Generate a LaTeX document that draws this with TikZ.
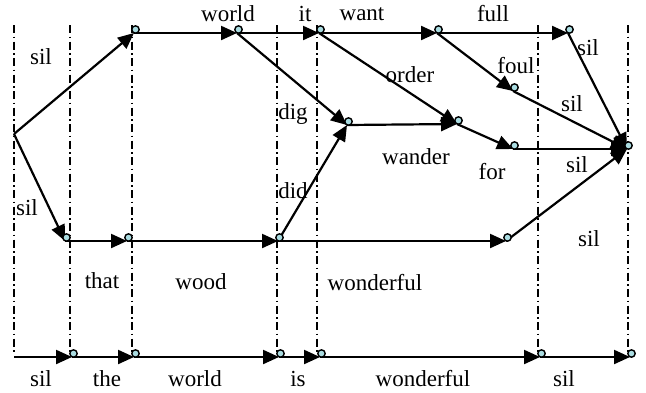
\documentclass[tikz,border=0pt]{standalone}
\usepackage{fontspec}
\setmainfont{Liberation Serif}
\usetikzlibrary{arrows.meta}
\definecolor{dotfill}{RGB}{170,220,225}
\begin{document}
\begin{tikzpicture}[x=1pt,y=-1pt,
  font=\fontsize{23}{27}\selectfont,
  conn/.style={line width=2.2pt,-{Triangle[length=16pt,width=14pt]}},
  gridline/.style={line width=1.5pt,dash pattern=on 8pt off 3.5pt on 1.5pt off 3.5pt},
  lbl/.style={inner sep=0pt,anchor=center},
  dotmark/.style={draw,line width=1.4pt,fill=dotfill}]
\useasboundingbox (0,0) rectangle (646,392);
% vertical dash-dot grid
\foreach \x in {14,70,132,277,317,538,628}
  \draw[gridline] (\x,25) -- (\x,352);
% vertices
\coordinate (A) at (14,134);
\coordinate (B) at (134,33);
\coordinate (C) at (237,33);
\coordinate (D) at (319,33);
\coordinate (E) at (437,33);
\coordinate (F) at (568,33);
\coordinate (G) at (347,125);
\coordinate (H) at (457,124);
\coordinate (I) at (513,91);
\coordinate (J) at (513,149);
\coordinate (K) at (627,149);
\coordinate (L) at (65,241);
\coordinate (M) at (127,241);
\coordinate (N) at (278,241);
\coordinate (O) at (506,241);
\coordinate (S0) at (14,357);
\coordinate (S1) at (72,357);
\coordinate (S2) at (134,357);
\coordinate (S3) at (279,357);
\coordinate (S4) at (320,357);
\coordinate (S5) at (540,357);
\coordinate (S6) at (630,357);
% connectors
\draw[conn] (A) -- (B);
\draw[conn] (A) -- (L);
\draw[conn] (B) -- (C);
\draw[conn] (C) -- (D);
\draw[conn] (C) -- (G);
\draw[conn] (D) -- (E);
\draw[conn] (D) -- (H);
\draw[conn] (E) -- (F);
\draw[conn] (E) -- (I);
\draw[conn] (G) -- (H);
\draw[conn] (H) -- (J);
\draw[conn] (F) -- (K);
\draw[conn] (I) -- (K);
\draw[conn] (J) -- (K);
\draw[conn] (L) -- (M);
\draw[conn] (M) -- (N);
\draw[conn] (N) -- (O);
\draw[conn] (N) -- (G);
\draw[conn] (O) -- (K);
\draw[conn] (S0) -- (S1);
\draw[conn] (S1) -- (S2);
\draw[conn] (S2) -- (S3);
\draw[conn] (S3) -- (S4);
\draw[conn] (S4) -- (S5);
\draw[conn] (S5) -- (S6);
% vertex marks
\foreach \v in {B,C,D,E,F,G,H,I,J,K,L,M,N,O,S1,S2,S3,S4,S5,S6}
  \draw[dotmark] ([shift={(1.5,-3.5)}]\v) circle (3.7);
% labels
\node[lbl] (l1) at (41,57) {sil};
\node[lbl] (l2) at (228,14) {world};
\node[lbl] (l3) at (305,14) {it};
\node[lbl] (l4) at (362,14) {want};
\node[lbl] (l5) at (493,14) {full};
\node[lbl] (l6) at (410,75) {order};
\node[lbl] (l7) at (516,66) {foul};
\node[lbl] (l8) at (588,48) {sil};
\node[lbl] (l9) at (572,104) {sil};
\node[lbl] (l10) at (577,165) {sil};
\node[lbl] (l11) at (492,172) {for};
\node[lbl] (l12) at (416,157) {wander};
\node[lbl] (l13) at (293,114) {dig};
\node[lbl] (l14) at (293,191) {did};
\node[lbl] (l15) at (27,208) {sil};
\node[lbl] (l16) at (102,281) {that};
\node[lbl] (l17) at (201,282) {wood};
\node[lbl] (l18) at (375,283) {wonderful};
\node[lbl] (l19) at (589,239) {sil};
\node[lbl] (b1) at (41,379) {sil};
\node[lbl] (b2) at (107,379) {the};
\node[lbl] (b3) at (195,379) {world};
\node[lbl] (b4) at (298,379) {is};
\node[lbl] (b5) at (423,379) {wonderful};
\node[lbl] (b6) at (564,379) {sil};
\end{tikzpicture}
\end{document}
